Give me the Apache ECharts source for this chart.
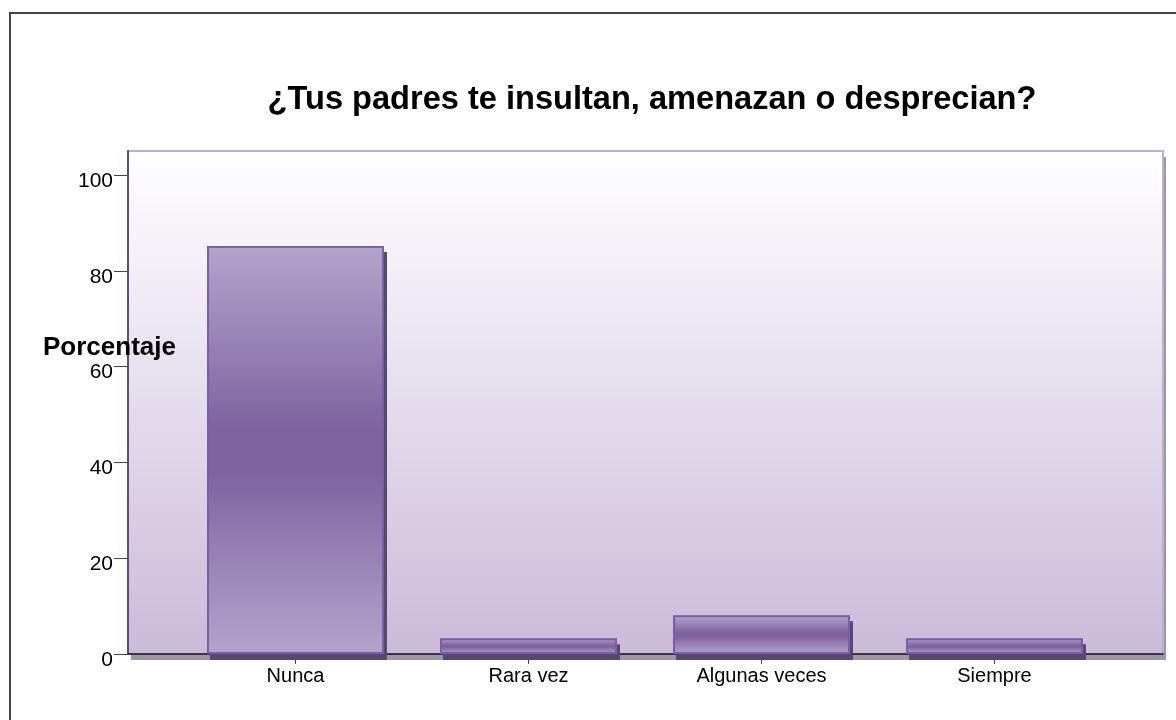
<!DOCTYPE html>
<html>
<head>
<meta charset="utf-8">
<script src="https://cdn.jsdelivr.net/npm/echarts@6/dist/echarts.min.js"></script>
<style>
  html, body { margin: 0; padding: 0; background: #fff; }
  #main { width: 1176px; height: 720px; }
</style>
</head>
<body>
<div id="main"></div>
<script>
var titleText = '¿Tus padres te insultan, amenazan o desprecian?';
var yName = 'Porcentaje';
var categories = ['Nunca', 'Rara vez', 'Algunas veces', 'Siempre'];
var percents = [85.2, 3.3, 8.1, 3.3];
var yTicks = [0, 20, 40, 60, 80, 100];

var barFill = {
  type: 'linear', x: 0, y: 0, x2: 0, y2: 1,
  colorStops: [
    { offset: 0, color: '#b3a4cb' },
    { offset: 0.45, color: '#7e63a0' },
    { offset: 0.55, color: '#7e63a0' },
    { offset: 1, color: '#b3a4cb' }
  ]
};

var myChart = echarts.init(document.getElementById('main'));
myChart.setOption({
  animation: false,
  title: {
    text: titleText,
    left: 647,
    textAlign: 'center',
    top: 79,
    textStyle: { fontFamily: 'Liberation Sans', fontSize: 32.6, fontWeight: 'bold', color: '#000' }
  },
  graphic: [
    {
      type: 'rect', silent: true,
      shape: { x: 10, y: 13, width: 1250, height: 800 },
      style: { fill: 'none', stroke: '#444', lineWidth: 2 }
    },
    {
      type: 'text', left: 43, top: 335, z: 100,
      style: { text: yName, font: 'bold 26px "Liberation Sans"', fill: '#000' }
    }
  ],
  grid: [
    // plot background with its drop shadow
    {
      left: 128, right: 13, top: 151, bottom: 66,
      show: true,
      backgroundColor: {
        type: 'linear', x: 0, y: 0, x2: 0, y2: 1,
        colorStops: [
          { offset: 0, color: '#fefeff' },
          { offset: 1, color: '#cabbd9' }
        ]
      },
      borderWidth: 0,
      shadowColor: '#9b97a3',
      shadowOffsetX: 3,
      shadowOffsetY: 6,
      shadowBlur: 0
    },
    // bars
    { left: 179, right: 65, top: 175, bottom: 66 },
    // plot frame
    {
      left: 128, right: 13, top: 151, bottom: 66,
      show: true, backgroundColor: 'transparent',
      borderColor: '#bcaed6', borderWidth: 2
    }
  ],
  xAxis: [
    {
      gridIndex: 0, type: 'value', min: 0, max: 1,
      axisLine: { show: true, onZero: false, lineStyle: { color: '#3d3349', width: 2 } },
      axisTick: { show: false }, axisLabel: { show: false }, splitLine: { show: false }
    },
    {
      gridIndex: 1, type: 'category', data: categories,
      axisLine: { show: false },
      axisTick: { show: true, alignWithLabel: true, length: 10, lineStyle: { color: '#444' } },
      axisLabel: { margin: 12, fontFamily: 'Liberation Sans', fontSize: 20, color: '#000' },
      splitLine: { show: false }
    },
    {
      gridIndex: 2, type: 'value', show: false, min: 0, max: 1
    }
  ],
  yAxis: [
    {
      gridIndex: 0, type: 'value', min: 0, max: 1,
      axisLine: { show: true, onZero: false, lineStyle: { color: '#5e4c7b', width: 2 } },
      axisTick: { show: false }, axisLabel: { show: false }, splitLine: { show: false }
    },
    {
      gridIndex: 1, type: 'value', min: 0, max: 100, interval: 20,
      offset: 51,
      axisLine: { show: false },
      axisTick: { show: true, length: 14, lineStyle: { color: '#444' } },
      axisLabel: {
        margin: 15, fontFamily: 'Liberation Sans', fontSize: 21, color: '#000',
        verticalAlign: 'top', lineHeight: 12,
        formatter: function (v) { return yTicks.indexOf(v) >= 0 ? String(v) : ''; }
      },
      splitLine: { show: false }
    },
    {
      gridIndex: 2, type: 'value', show: false, min: 0, max: 1
    }
  ],
  series: [
    {
      // filled bars with drop shadow
      type: 'bar',
      xAxisIndex: 1, yAxisIndex: 1,
      data: percents,
      barWidth: 177,
      barGap: '-100%',
      z: 5,
      itemStyle: {
        color: barFill,
        borderWidth: 0,
        shadowColor: '#574870',
        shadowOffsetX: 3,
        shadowOffsetY: 6,
        shadowBlur: 0
      }
    },
    {
      // bar outlines
      type: 'bar',
      xAxisIndex: 1, yAxisIndex: 1,
      data: percents,
      barWidth: 177,
      barGap: '-100%',
      z: 6,
      itemStyle: {
        color: 'transparent',
        borderColor: '#7a5fa8',
        borderWidth: 2
      }
    }
  ]
});
</script>
</body>
</html>
